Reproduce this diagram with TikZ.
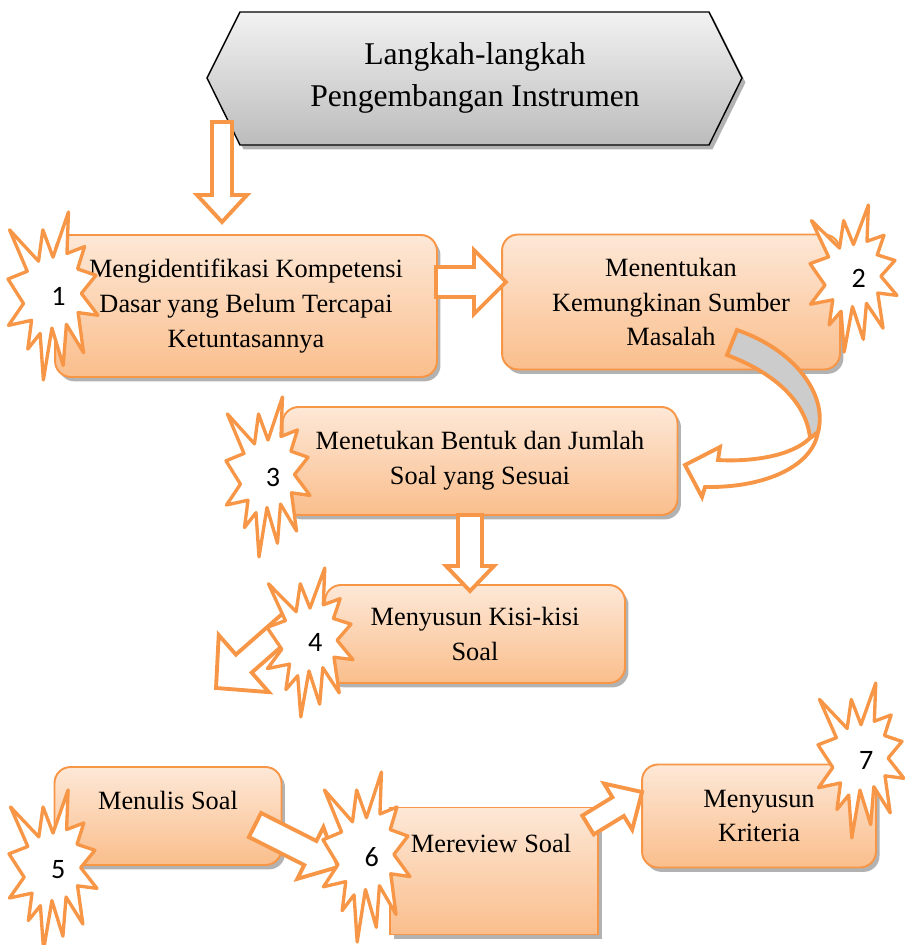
\documentclass[tikz,border=0pt]{standalone}
\usepackage{fontspec}
\setmainfont{Liberation Serif}
\newfontfamily\angkafont{Carlito}
\usetikzlibrary{calc,shadows,positioning}

\definecolor{oranye}{RGB}{247,150,70}
\definecolor{peachatas}{RGB}{253,232,215}
\definecolor{peachbawah}{RGB}{250,190,140}
\definecolor{abuatas}{RGB}{242,242,242}
\definecolor{abubawah}{RGB}{188,188,188}
\definecolor{abupita}{RGB}{204,204,204}

\tikzset{
  langkah/.style={draw=oranye, line width=1.1pt, rounded corners=0.32cm,
    top color=peachatas, bottom color=peachbawah,
    drop shadow={shadow xshift=2pt, shadow yshift=-2.5pt, opacity=0.3, fill=black},
    align=center, font=\fontsize{15}{19.8}\selectfont},
  kotak/.style={langkah, rounded corners=0pt},
  teks/.style={align=center, font=\fontsize{15}{19.8}\selectfont},
  blok/.style={draw=oranye, line width=2.2pt, fill=white, line join=miter},
  ledak/.style={draw=oranye, line width=1.9pt, fill=white, line join=round},
  nomor/.style={font=\angkafont\fontsize{16}{16}\selectfont},
}

% block arrow: from, tip, shaft half, head half, head length
\newcommand{\panah}[5]{%
  \coordinate (ph) at ($(#2)!#5!(#1)$);
  \draw[blok] ($(#1)!#3!90:(#2)$) -- ($(ph)!#3!90:(#2)$) -- ($(ph)!#4!90:(#2)$)
    -- (#2) -- ($(ph)!#4!-90:(#2)$) -- ($(ph)!#3!-90:(#2)$) -- ($(#1)!#3!-90:(#2)$) -- cycle;
}

% explosion: name, x0, y0, x unit, y unit, number
\newcommand{\ledakan}[6]{%
  \begin{scope}[shift={(#2,#3)}, x=#4, y=-#5]
    \draw[ledak] (50,26.9) -- (67.2,0) -- (65.5,24.7) -- (85.1,20.6) -- (77.3,33.9)
      -- (97.7,37.7) -- (81.5,48.5) -- (100,61.5) -- (77.9,59.9) -- (84,83.8)
      -- (64.9,66.9) -- (61.3,91.4) -- (48.8,69.1) -- (39.3,100) -- (35.7,72.3)
      -- (22,81.6) -- (26.2,64.5) -- (0.6,67.5) -- (17.2,54.5) -- (0,39.9)
      -- (21.4,35.3) -- (1.7,10.6) -- (33.9,29.3) -- (38.7,10.6) -- cycle;
    \node[nomor] (#1) at (56,50) {#6};
  \end{scope}
}

\begin{document}
\begin{tikzpicture}[x=0.02cm, y=-0.02cm]
\useasboundingbox (0,0) rectangle (904,945);

% judul
\path[draw=black, line width=0.8pt, top color=abuatas, bottom color=abubawah,
  drop shadow={shadow xshift=2pt, shadow yshift=-2.5pt, opacity=0.3, fill=black}]
  (207,78) -- (240,12) -- (709,12) -- (742,78) -- (709,145) -- (240,145) -- cycle;
\node[align=center, font=\fontsize{18}{24.4}\selectfont] (judul) at (475,78)
  {Langkah-langkah\\Pengembangan Instrumen};

% kotak langkah
\node[langkah, minimum width=7.64cm, minimum height=2.84cm] (langkah1) at (246,306)
  {Mengidentifikasi Kompetensi\\Dasar yang Belum Tercapai\\Ketuntasannya};
\node[langkah, minimum width=6.76cm, minimum height=2.7cm] (langkah2) at (671,302)
  {Menentukan\\Kemungkinan Sumber\\Masalah};
\node[langkah, minimum width=7.9cm, minimum height=2.16cm] (langkah3) at (480,461)
  {Menetukan Bentuk dan Jumlah\\Soal yang Sesuai};
\node[langkah, minimum width=6cm, minimum height=1.96cm] (langkah4) at (475,634)
  {Menyusun Kisi-kisi\\Soal};
\node[langkah, minimum width=4.54cm, minimum height=1.96cm] (langkah5) at (168,816) {};
\node[teks] (teks5) at (168,800) {Menulis Soal};
\node[kotak, minimum width=4.16cm, minimum height=2.54cm] (langkah6) at (494,871) {};
\node[teks] (teks6) at (491,843) {Mereview Soal};
\node[langkah, minimum width=4.68cm, minimum height=2.06cm] (langkah7) at (759,816)
  {Menyusun\\Kriteria};

% panah
\coordinate (j1) at (222,122);
\coordinate (j2) at (222,222);
\panah{j1}{j2}{0.2cm}{0.5cm}{0.54cm}
\coordinate (a1) at (436,282);
\coordinate (a2) at (506,282);
\panah{a1}{a2}{0.3cm}{0.64cm}{0.64cm}
\coordinate (b1) at (470,515);
\coordinate (b2) at (470,591);
\panah{b1}{b2}{0.24cm}{0.48cm}{0.5cm}
\coordinate (c1) at (298,616);
\coordinate (c2) at (216,688);
\panah{c1}{c2}{0.24cm}{0.76cm}{0.74cm}
\coordinate (d1) at (255,825);
\coordinate (d2) at (338,867);
\panah{d1}{d2}{0.27cm}{0.58cm}{0.62cm}
\coordinate (e1) at (588,825);
\coordinate (e2) at (642,792);
\panah{e1}{e2}{0.22cm}{0.54cm}{0.56cm}

% panah lengkung 2 ke 3
\draw[blok] (810,438) .. controls (792,456) and (752,462) .. (718,460) -- (720,447)
  -- (685,465) -- (702,497) -- (705,487) .. controls (762,488) and (812,468) .. (818,432) -- cycle;
\draw[blok, fill=abupita] (737,330) .. controls (795,350) and (828,395) .. (818,432)
  -- (810,438) .. controls (806,400) and (772,372) .. (727,355) -- cycle;

% ledakan nomor
\ledakan{no1}{8}{212}{0.018cm}{0.0336cm}{1}
\ledakan{no2}{810}{205}{0.0174cm}{0.0294cm}{2}
\ledakan{no3}{226}{397}{0.0168cm}{0.032cm}{3}
\ledakan{no4}{267}{568}{0.0172cm}{0.0298cm}{4}
\ledakan{no5}{9}{790}{0.0176cm}{0.032cm}{5}
\ledakan{no6}{323}{772}{0.0174cm}{0.034cm}{6}
\ledakan{no7}{818}{683}{0.0172cm}{0.031cm}{7}
\end{tikzpicture}
\end{document}
